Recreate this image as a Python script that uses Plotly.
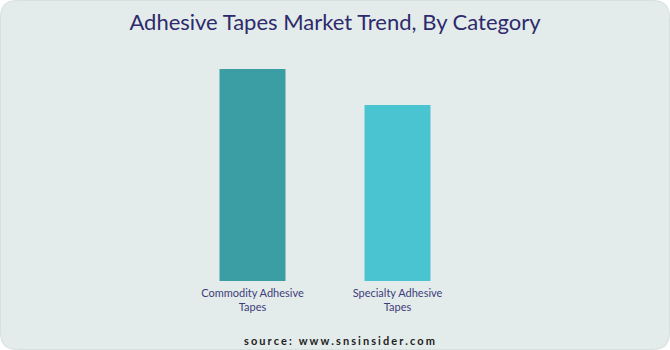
import plotly.graph_objects as go

categories = ["Commodity Adhesive<br>Tapes", "Specialty Adhesive<br>Tapes"]
values = [100, 83]
colors = ["#3B9EA5", "#4BC4D1"]

W, H = 670, 350
ml, mr, mt, mb = 180, 200, 69, 69
pw, ph = W - ml - mr, H - mt - mb

def px(x):
    return (x - ml) / pw

def py(y):
    return (H - mb - y) / ph

r = 16
x0, x1, y0, y1 = 0.5, W - 0.5, 0.5, H - 0.5
path = (
    f"M {px(x0 + r)} {py(y0)} L {px(x1 - r)} {py(y0)} "
    f"Q {px(x1)} {py(y0)} {px(x1)} {py(y0 + r)} "
    f"L {px(x1)} {py(y1 - r)} Q {px(x1)} {py(y1)} {px(x1 - r)} {py(y1)} "
    f"L {px(x0 + r)} {py(y1)} Q {px(x0)} {py(y1)} {px(x0)} {py(y1 - r)} "
    f"L {px(x0)} {py(y0 + r)} Q {px(x0)} {py(y0)} {px(x0 + r)} {py(y0)} Z"
)

fig = go.Figure(
    go.Bar(
        x=categories,
        y=values,
        marker=dict(color=colors, line=dict(width=0)),
        width=0.455,
        hoverinfo="skip",
    )
)

source = "\u2009\u200a".join("source: www.snsinsider.com")

fig.update_layout(
    width=W,
    height=H,
    margin=dict(l=ml, r=mr, t=mt, b=mb),
    paper_bgcolor="white",
    plot_bgcolor="rgba(0,0,0,0)",
    showlegend=False,
    shapes=[
        dict(
            type="path",
            path=path,
            xref="paper",
            yref="paper",
            fillcolor="#E3ECEB",
            line=dict(color="#D5E0DF", width=1),
            layer="below",
        )
    ],
    title=dict(
        text="Adhesive Tapes Market Trend, By Category",
        x=0.5,
        xref="container",
        xanchor="center",
        y=1 - 22 / H,
        yref="container",
        yanchor="middle",
        font=dict(family="Lato, sans-serif", size=22, color="#2E2A6B"),
    ),
    xaxis=dict(
        showgrid=False,
        showline=False,
        zeroline=False,
        ticks="",
        ticklabelstandoff=4,
        tickfont=dict(family="Lato, sans-serif", size=11, color="#3F3C7A"),
        range=[-0.5, 1.5],
    ),
    yaxis=dict(
        visible=False,
        range=[0, 100],
    ),
    annotations=[
        dict(
            text=source,
            x=px(339),
            y=py(340),
            xref="paper",
            yref="paper",
            xanchor="center",
            yanchor="middle",
            showarrow=False,
            font=dict(family="Lato, sans-serif", size=11, color="#222222", weight="bold"),
        )
    ],
)

fig.write_html("out.html")
